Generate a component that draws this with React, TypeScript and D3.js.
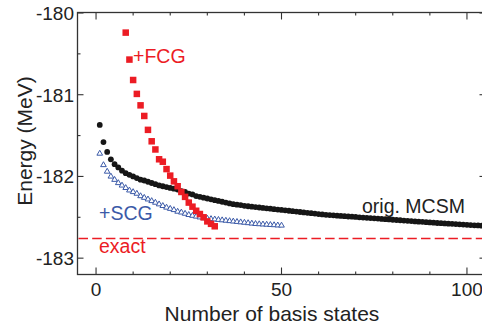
import React, { useEffect, useRef } from "react";
import * as d3 from "d3";

// orig. MCSM energies (MeV), basis states 1..104
const mcsm = [
  -181.37, -181.58, -181.7, -181.79, -181.85, -181.89, -181.93, -181.96, -181.98, -182.0,
  -182.02, -182.04, -182.05, -182.065, -182.08, -182.095, -182.11, -182.12, -182.13, -182.14,
  -182.15, -182.16, -182.18, -182.19, -182.21, -182.22, -182.24, -182.25, -182.26, -182.27,
  -182.28, -182.29, -182.3, -182.31, -182.32, -182.33, -182.34, -182.345, -182.35, -182.36,
  -182.365, -182.37, -182.375, -182.38, -182.385, -182.39, -182.395, -182.4, -182.405, -182.41,
  -182.415, -182.42, -182.425, -182.43, -182.435, -182.44, -182.445, -182.45, -182.455, -182.46,
  -182.465, -182.47, -182.473, -182.476, -182.48, -182.483, -182.486, -182.49, -182.493, -182.496,
  -182.5, -182.503, -182.506, -182.51, -182.513, -182.516, -182.52, -182.523, -182.526, -182.53,
  -182.533, -182.536, -182.54, -182.543, -182.546, -182.55, -182.553, -182.556, -182.56, -182.563,
  -182.566, -182.57, -182.572, -182.575, -182.578, -182.58, -182.583, -182.586, -182.589, -182.592,
  -182.595, -182.598, -182.6, -182.603,
];

// +SCG, basis states 1..50
const scg = [
  -181.72, -181.86, -181.94, -182.0, -182.04, -182.08, -182.11, -182.14, -182.17, -182.19,
  -182.21, -182.24, -182.26, -182.28, -182.3, -182.32, -182.34, -182.36, -182.38, -182.395,
  -182.41, -182.43, -182.44, -182.455, -182.47, -182.48, -182.49, -182.5, -182.51, -182.515,
  -182.52, -182.525, -182.53, -182.535, -182.54, -182.545, -182.55, -182.555, -182.56, -182.565,
  -182.57, -182.575, -182.58, -182.583, -182.586, -182.589, -182.592, -182.595, -182.598, -182.6,
];

// +FCG, basis states 8..32
const fcgStart = 8;
const fcg = [
  -180.24, -180.57, -180.82, -180.99, -181.13, -181.26, -181.43, -181.57, -181.67, -181.79,
  -181.82, -181.91, -181.99, -182.06, -182.12, -182.19, -182.25, -182.32, -182.37, -182.42,
  -182.46, -182.5, -182.55, -182.58, -182.61,
];

const exact = -182.76;
const xTicks = [0, 50, 100];
const yTicks = [-180, -181, -182, -183];

const W = 482;
const H = 328;
const RED = "#ec1c24";
const BLUE = "#3b5aa8";
const FONT = "'Liberation Sans', Arial, sans-serif";

const App = () => {
  const ref = useRef<SVGSVGElement>(null);

  useEffect(() => {
    const svg = d3.select(ref.current);
    svg.selectAll("*").remove();

    const x = d3.scaleLinear().domain([-5, 105]).range([77.5, 485.5]);
    const y = d3.scaleLinear().domain([-183.2, -180]).range([274.5, 13]);
    const [x0, x1] = x.range();
    const [y0, y1] = y.range();

    // frame
    svg
      .append("rect")
      .attr("x", x0)
      .attr("y", y1 - 0.5)
      .attr("width", x1 - x0)
      .attr("height", y0 - y1 + 0.5)
      .attr("fill", "none")
      .attr("stroke", "#333")
      .attr("stroke-width", 1.3);

    const axisG = svg.append("g").attr("stroke", "#333").attr("stroke-width", 1.1);
    d3.range(0, 101, 10).forEach((v) => {
      const len = v % 50 === 0 ? 7 : 3;
      axisG.append("line").attr("x1", x(v)).attr("x2", x(v)).attr("y1", y0).attr("y2", y0 - len);
      axisG.append("line").attr("x1", x(v)).attr("x2", x(v)).attr("y1", y1 - 0.5).attr("y2", y1 - 0.5 + len);
    });
    d3.range(-183, -179.9, 0.5).forEach((v) => {
      const len = Math.abs(v - Math.round(v)) < 0.01 ? 6 : 3;
      axisG.append("line").attr("x1", x0).attr("x2", x0 + len).attr("y1", y(v)).attr("y2", y(v));
      axisG.append("line").attr("x1", x1).attr("x2", x1 - len).attr("y1", y(v)).attr("y2", y(v));
    });

    const text = (s: string, tx: number, ty: number, size: number, color: string, anchor = "start") =>
      svg
        .append("text")
        .attr("x", tx)
        .attr("y", ty)
        .attr("font-family", FONT)
        .attr("font-size", size)
        .attr("fill", color)
        .attr("text-anchor", anchor)
        .text(s);

    xTicks.forEach((v) => text(String(v), x(v), 296, 19, "#222", "middle"));
    yTicks.forEach((v) => text(String(v), 74, y(v) + 7, 19, "#222", "end"));

    text("Number of basis states", 272, 321, 21, "#222", "middle");
    svg
      .append("text")
      .attr("transform", `translate(32,141) rotate(-90)`)
      .attr("font-family", FONT)
      .attr("font-size", 21)
      .attr("fill", "#222")
      .attr("text-anchor", "middle")
      .text("Energy (MeV)");

    // exact line
    svg
      .append("line")
      .attr("x1", x0 + 1)
      .attr("x2", x1)
      .attr("y1", y(exact))
      .attr("y2", y(exact))
      .attr("stroke", RED)
      .attr("stroke-width", 1.6)
      .attr("stroke-dasharray", "9.5,4.2");

    // orig. MCSM
    svg
      .append("g")
      .selectAll("circle")
      .data(mcsm)
      .enter()
      .append("circle")
      .attr("cx", (d, i) => x(i + 1))
      .attr("cy", (d) => y(d))
      .attr("r", 2.9)
      .attr("fill", "#161616");

    // +SCG
    const tri = d3.symbol().type(d3.symbolTriangle).size(14);
    svg
      .append("g")
      .selectAll("path")
      .data(scg)
      .enter()
      .append("path")
      .attr("d", tri)
      .attr("transform", (d, i) => `translate(${x(i + 1)},${y(d)})`)
      .attr("fill", "white")
      .attr("stroke", BLUE)
      .attr("stroke-width", 1);

    // +FCG
    const s = 6.5;
    svg
      .append("g")
      .selectAll("rect")
      .data(fcg)
      .enter()
      .append("rect")
      .attr("x", (d, i) => x(i + fcgStart) - s / 2)
      .attr("y", (d) => y(d) - s / 2)
      .attr("width", s)
      .attr("height", s)
      .attr("fill", RED);

    text("+FCG", 133, 63, 19.5, RED);
    text("+SCG", 99, 220, 19.5, BLUE);
    text("orig. MCSM", 362, 213, 19.5, "#222");
    text("exact", 99, 253, 19.5, RED);
  }, []);

  return (
    <svg
      ref={ref}
      width={W}
      height={H}
      style={{ position: "absolute", left: 0, top: 0, background: "white" }}
    />
  );
};

export default App;
